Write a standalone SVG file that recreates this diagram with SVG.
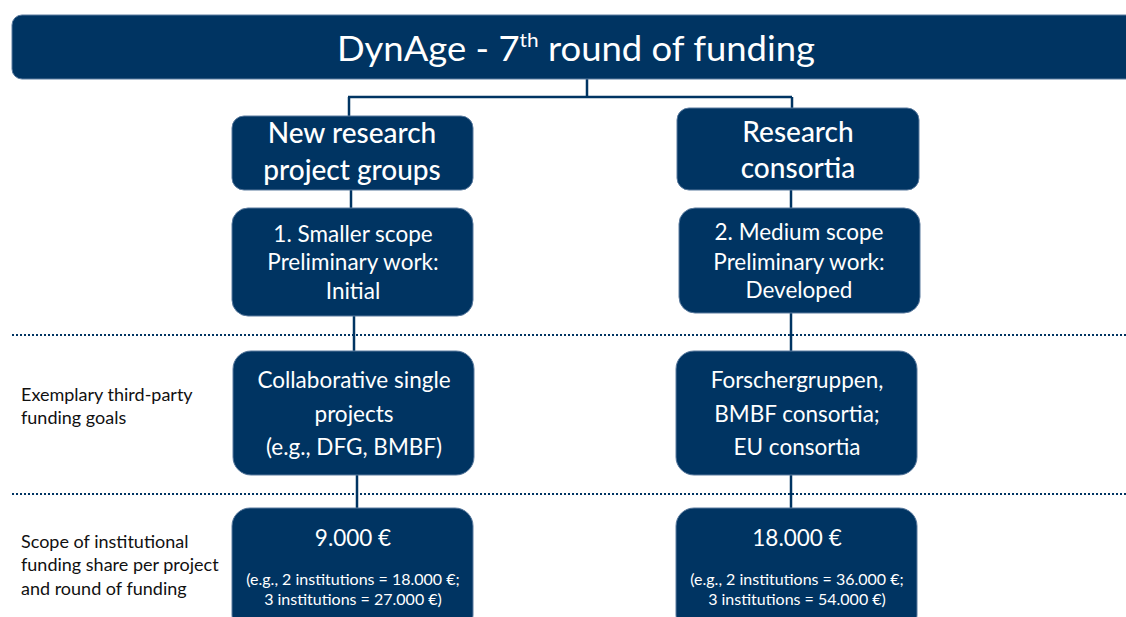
<svg xmlns="http://www.w3.org/2000/svg" width="1126" height="617" viewBox="0 0 1126 617">
<style>
.box{fill:#003462;stroke:#5a7a9e;stroke-width:1}
.wire{fill:none;stroke:#003462;stroke-width:2.5}
.dot{fill:none;stroke:#003462;stroke-width:2;stroke-dasharray:2 2}
.t{font-family:Lato,"Open Sans","Liberation Sans",sans-serif;fill:#fff;text-anchor:middle}
.h{font-size:28px;font-weight:500}
.m{font-size:22.5px}
.s{font-size:16px}
.lab{font-family:Lato,"Open Sans","Liberation Sans",sans-serif;fill:#111;font-size:18px}
</style>
<rect width="1126" height="617" fill="#fff"/>
<g id="connectors">
<path class="wire" d="M587 79V97M348 97H792M349 97V116M792 97V108M351 190V208M791 190V208M354 316V351M791 313V351M357 475V508M791 475V508"/>
</g>
<g id="separators">
<line class="dot" x1="12" y1="335" x2="1126" y2="335"/>
<line class="dot" x1="12" y1="494" x2="1126" y2="494"/>
</g>
<g id="title">
<rect class="box" x="12" y="15" width="1130" height="64" rx="10"/>
<text class="t" x="576" y="61" font-size="35" textLength="478" lengthAdjust="spacingAndGlyphs">DynAge - 7<tspan font-size="20" dy="-14">th</tspan><tspan dy="14"> round of funding</tspan></text>
</g>
<g id="n-new-groups">
<rect class="box" x="232" y="116" width="241" height="74" rx="12"/>
<text class="t h" x="352" y="143">New research</text>
<text class="t h" x="352" y="180">project groups</text>
</g>
<g id="n-consortia">
<rect class="box" x="677" y="108" width="242" height="82" rx="12"/>
<text class="t h" x="798" y="142">Research</text>
<text class="t h" x="798" y="178">consortia</text>
</g>
<g id="n-smaller">
<rect class="box" x="232" y="208" width="241" height="108" rx="16"/>
<text class="t m" x="353" y="242">1. Smaller scope</text>
<text class="t m" x="353" y="270">Preliminary work:</text>
<text class="t m" x="353" y="299">Initial</text>
</g>
<g id="n-medium">
<rect class="box" x="679" y="208" width="241" height="105" rx="16"/>
<text class="t m" x="799" y="240">2. Medium scope</text>
<text class="t m" x="799" y="270">Preliminary work:</text>
<text class="t m" x="799" y="298">Developed</text>
</g>
<g id="n-collab">
<rect class="box" x="233" y="351" width="241" height="124" rx="18"/>
<text class="t m" x="354" y="388">Collaborative single</text>
<text class="t m" x="354" y="422">projects</text>
<text class="t m" x="354" y="455">(e.g., DFG, BMBF)</text>
</g>
<g id="n-forscher">
<rect class="box" x="676" y="351" width="241" height="124" rx="18"/>
<text class="t m" x="797" y="388">Forschergruppen,</text>
<text class="t m" x="797" y="422">BMBF consortia;</text>
<text class="t m" x="797" y="455">EU consortia</text>
</g>
<g id="n-9000">
<rect class="box" x="232" y="508" width="241" height="125" rx="18"/>
<text class="t m" x="353" y="546">9.000 €</text>
<text class="t s" x="353" y="585">(e.g., 2 institutions = 18.000 €;</text>
<text class="t s" x="353" y="605">3 institutions = 27.000 €)</text>
</g>
<g id="n-18000">
<rect class="box" x="676" y="508" width="241" height="125" rx="18"/>
<text class="t m" x="797" y="546">18.000 €</text>
<text class="t s" x="797" y="585">(e.g., 2 institutions = 36.000 €;</text>
<text class="t s" x="797" y="605">3 institutions = 54.000 €)</text>
</g>
<g id="labels">
<text class="lab" x="21" y="401">Exemplary third-party</text>
<text class="lab" x="21" y="424">funding goals</text>
<text class="lab" x="21" y="548">Scope of institutional</text>
<text class="lab" x="21" y="571">funding share per project</text>
<text class="lab" x="21" y="595">and round of funding</text>
</g>
</svg>
